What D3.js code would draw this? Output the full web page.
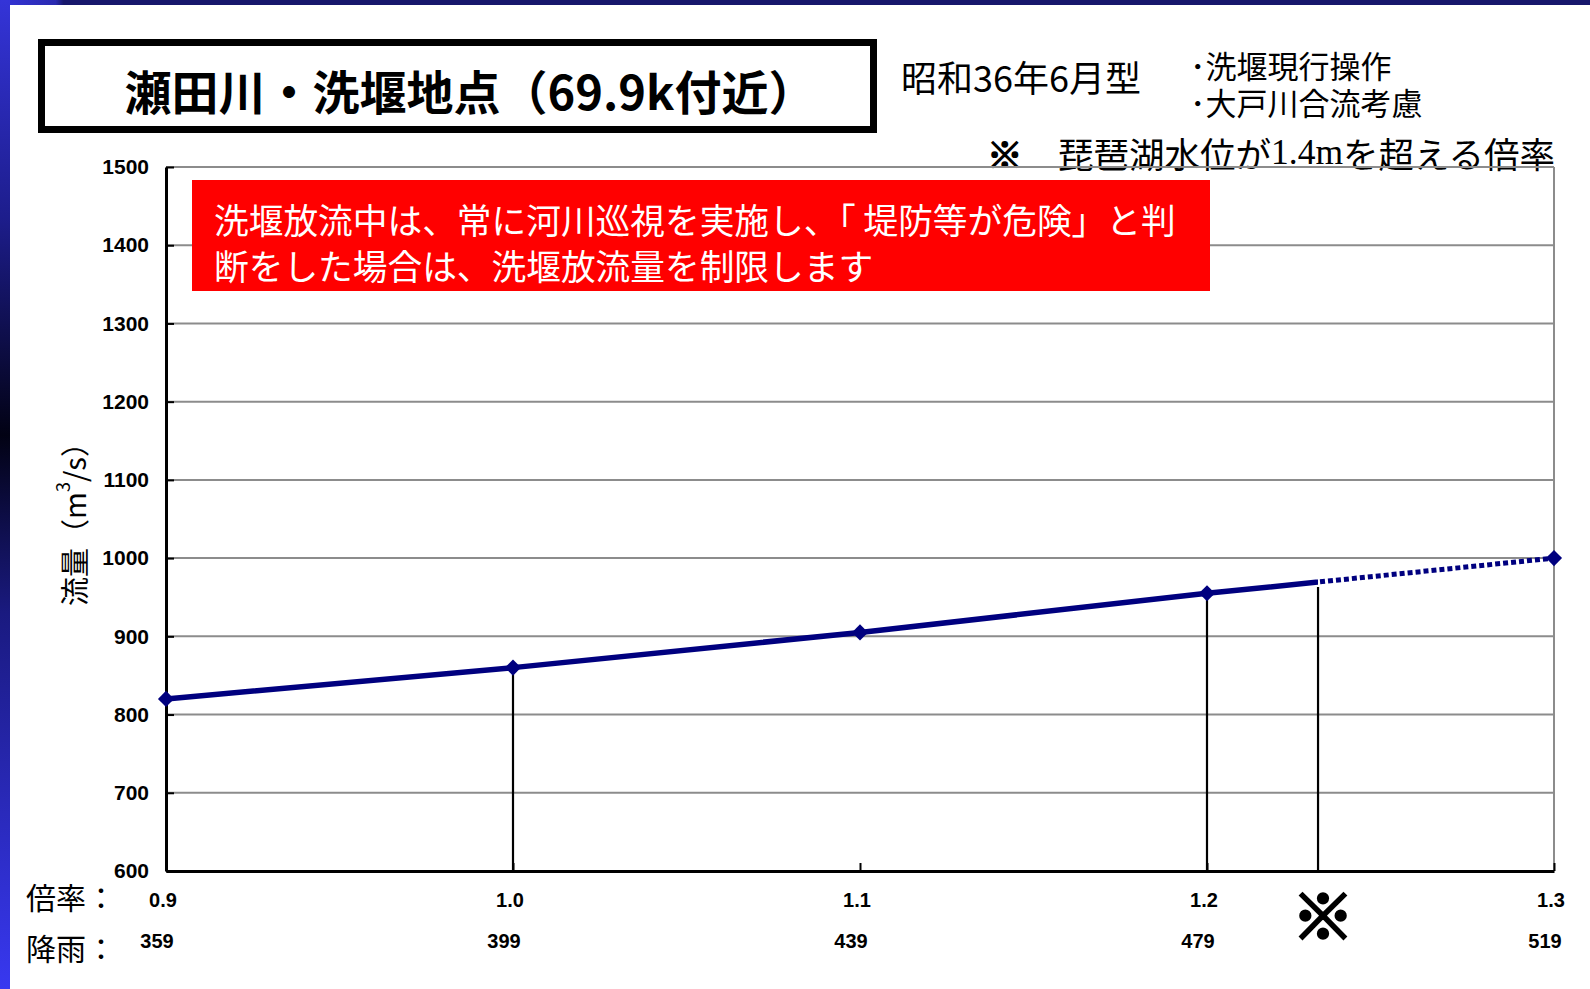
<!DOCTYPE html>
<html lang="ja">
<head>
<meta charset="utf-8">
<title>瀬田川・洗堰地点（69.9k付近）</title>
<script src="https://cdn.jsdelivr.net/npm/d3@7"></script>
<style>
  html, body { margin: 0; padding: 0; background: #ffffff; }
  svg { display: block; }
  .jp { font-family: "Noto Sans CJK JP", "Noto Sans", sans-serif; }
  .num { font-family: "Liberation Sans", Arial, sans-serif; font-weight: bold; }
</style>
</head>
<body>
<svg id="chart" width="1590" height="989"></svg>
<script>
// 倍率 (rainfall multiplier) along the horizontal axis
const rates = [0.9, 1.0, 1.1, 1.2, 1.3];
// 降雨 (rainfall, mm) corresponding to each multiplier
const rainfall = [359, 399, 439, 479, 519];
// 流量 (discharge, m3/s) at the 洗堰 point for each multiplier
const flows = [820, 860, 905, 955, 1000];
// vertical axis ticks
const yTicks = [600, 700, 800, 900, 1000, 1100, 1200, 1300, 1400, 1500];
// multipliers that get a drop line to the axis
const dropRates = [1.0, 1.2];
// multiplier at which Lake Biwa exceeds +1.4 m (※) and the flow read there
const thresholdRate = 1.232;
const thresholdFlow = 963;

const titleText = "瀬田川・洗堰地点（69.9k付近）";
const floodType = "昭和36年6月型";
const conditions = ["･洗堰現行操作", "･大戸川合流考慮"];
const noticeLines = [
  "洗堰放流中は、常に河川巡視を実施し、「 堤防等が危険」と判",
  "断をした場合は、洗堰放流量を制限します"
];

const svg = d3.select("#chart");
const W = 1590, H = 989;
const plot = { left: 166, right: 1554, top: 167, bottom: 871 };

const x = d3.scaleLinear().domain([0.9, 1.3]).range([plot.left, plot.right]);
const y = d3.scaleLinear().domain([600, 1500]).range([plot.bottom, plot.top]);

// ---- slide frame: dark top bar and blue left strip ----
const defs = svg.append("defs");
const gTop = defs.append("linearGradient").attr("id", "topBar").attr("x1", 0).attr("x2", 1).attr("y1", 0).attr("y2", 0);
gTop.append("stop").attr("offset", "0%").attr("stop-color", "#3434d8");
gTop.append("stop").attr("offset", "3.5%").attr("stop-color", "#2a2ab0");
gTop.append("stop").attr("offset", "4%").attr("stop-color", "#17176c");
gTop.append("stop").attr("offset", "100%").attr("stop-color", "#17176c");
const gLeft = defs.append("linearGradient").attr("id", "leftStrip").attr("x1", 0).attr("x2", 0).attr("y1", 0).attr("y2", 1);
gLeft.append("stop").attr("offset", "0%").attr("stop-color", "#3434d8");
gLeft.append("stop").attr("offset", "22%").attr("stop-color", "#1d1d8c");
gLeft.append("stop").attr("offset", "44%").attr("stop-color", "#020214");
gLeft.append("stop").attr("offset", "62%").attr("stop-color", "#1a1a80");
gLeft.append("stop").attr("offset", "100%").attr("stop-color", "#3838f0");

svg.append("rect").attr("x", 0).attr("y", 0).attr("width", W).attr("height", 5).attr("fill", "url(#topBar)");
svg.append("rect").attr("x", 0).attr("y", 0).attr("width", 10).attr("height", H).attr("fill", "url(#leftStrip)");

// ---- title box ----
svg.append("rect")
  .attr("x", 41.5).attr("y", 42.5).attr("width", 832).attr("height", 87)
  .attr("fill", "#fff").attr("stroke", "#000").attr("stroke-width", 7);
svg.append("text").attr("class", "jp")
  .attr("x", 470).attr("y", 89)
  .attr("text-anchor", "middle").attr("dominant-baseline", "central")
  .attr("font-size", 47).attr("font-weight", 700).attr("fill", "#000")
  .text(titleText);

svg.append("text").attr("class", "jp")
  .attr("x", 901).attr("y", 76).attr("dominant-baseline", "central")
  .attr("font-size", 36).attr("fill", "#000").text(floodType);

// operating conditions, two lines in one text block
svg.append("text").attr("class", "jp")
  .attr("y", 64).attr("dominant-baseline", "central")
  .attr("font-size", 31).attr("fill", "#000")
  .selectAll("tspan").data(conditions).join("tspan")
  .attr("x", 1190).attr("dy", (d, i) => i === 0 ? 0 : 37)
  .text(d => d);

// ※ note about Lake Biwa water level
const note = svg.append("text").attr("class", "jp")
  .attr("x", 987).attr("y", 152).attr("dominant-baseline", "central")
  .attr("font-size", 35.5).attr("fill", "#000");
note.append("tspan").attr("font-weight", 700)
  .attr("stroke", "#000").attr("stroke-width", 1.5).text("※");
note.append("tspan").text("　琵琶湖水位が");
note.append("tspan").attr("font-family", "'Liberation Serif', 'Times New Roman', serif").text("1.4m");
note.append("tspan").text("を超える倍率");

// ---- grid and frame ----
const grid = svg.append("g");
grid.selectAll("line").data(yTicks).join("line")
  .attr("x1", plot.left).attr("x2", plot.right)
  .attr("y1", d => y(d)).attr("y2", d => y(d))
  .attr("stroke", "#8c8c8c").attr("stroke-width", 2);
svg.append("line")
  .attr("x1", plot.right).attr("x2", plot.right)
  .attr("y1", plot.top).attr("y2", plot.bottom)
  .attr("stroke", "#8c8c8c").attr("stroke-width", 2);

// ---- notice box ----
svg.append("rect")
  .attr("x", 192).attr("y", 180).attr("width", 1018).attr("height", 111)
  .attr("fill", "#ff0000");
svg.selectAll("text.notice").data(noticeLines).join("text")
  .attr("class", "notice jp")
  .attr("x", 214).attr("y", (d, i) => 219 + i * 46)
  .attr("dominant-baseline", "central")
  .attr("font-size", 34.7).attr("fill", "#fff")
  .text(d => d);

// ---- drop lines from the curve to the axis ----
const drops = dropRates.map(r => ({ r, v: flows[rates.indexOf(r)] }))
  .concat([{ r: thresholdRate, v: thresholdFlow }]);
svg.append("g").selectAll("line").data(drops).join("line")
  .attr("x1", d => x(d.r)).attr("x2", d => x(d.r))
  .attr("y1", d => y(d.v)).attr("y2", plot.bottom)
  .attr("stroke", "#000").attr("stroke-width", 2.2);

// ---- axes ----
const yAxis = d3.axisLeft(y).tickValues(yTicks)
  .tickSizeInner(-8).tickSizeOuter(0).tickPadding(17)
  .tickFormat(d3.format("d"));
const gy = svg.append("g").attr("transform", `translate(${plot.left},0)`).call(yAxis);
gy.select(".domain").attr("stroke", "#000").attr("stroke-width", 3);
gy.selectAll(".tick line").attr("stroke", "#000").attr("stroke-width", 2);
gy.selectAll(".tick text").attr("class", "num").attr("font-size", 21).attr("fill", "#000");

const xAxis = d3.axisBottom(x).tickValues(rates)
  .tickSizeInner(-8).tickSizeOuter(0).tickFormat("");
const gx = svg.append("g").attr("transform", `translate(0,${plot.bottom})`).call(xAxis);
gx.select(".domain").attr("stroke", "#000").attr("stroke-width", 3);
gx.selectAll(".tick line").attr("stroke", "#000").attr("stroke-width", 2);

// ---- discharge curve: solid up to ※, dotted beyond ----
defs.append("clipPath").attr("id", "clipSolid").append("rect")
  .attr("x", 0).attr("y", 0).attr("width", x(thresholdRate)).attr("height", H);
defs.append("clipPath").attr("id", "clipDotted").append("rect")
  .attr("x", x(thresholdRate)).attr("y", 0).attr("width", W - x(thresholdRate)).attr("height", H);

const pts = rates.map((r, i) => [r, flows[i]]);
const line = d3.line().x(d => x(d[0])).y(d => y(d[1]));
const navy = "#00007f";
svg.append("path").datum(pts).attr("d", line)
  .attr("fill", "none").attr("stroke", navy).attr("stroke-width", 5.5)
  .attr("clip-path", "url(#clipSolid)");
svg.append("path").datum(pts).attr("d", line)
  .attr("fill", "none").attr("stroke", navy).attr("stroke-width", 5)
  .attr("stroke-dasharray", "5,3")
  .attr("clip-path", "url(#clipDotted)");

const diamond = {
  draw(ctx, size) {
    const r = Math.sqrt(size / 2);
    ctx.moveTo(0, -r); ctx.lineTo(r, 0); ctx.lineTo(0, r); ctx.lineTo(-r, 0); ctx.closePath();
  }
};
svg.append("g").selectAll("path").data(pts).join("path")
  .attr("transform", d => `translate(${x(d[0])},${y(d[1])})`)
  .attr("d", d3.symbol(diamond, 130))
  .attr("fill", navy);

// ---- bottom label rows ----
svg.append("text").attr("class", "jp")
  .attr("x", 26).attr("y", 896).attr("dominant-baseline", "central")
  .attr("font-size", 30).attr("fill", "#000").text("倍率：");
svg.append("text").attr("class", "jp")
  .attr("x", 26).attr("y", 947).attr("dominant-baseline", "central")
  .attr("font-size", 30).attr("fill", "#000").text("降雨：");

svg.append("g").selectAll("text").data(rates).join("text")
  .attr("class", "num")
  .attr("x", d => x(d) - 3).attr("y", 900)
  .attr("text-anchor", "middle").attr("dominant-baseline", "central")
  .attr("font-size", 20).attr("fill", "#000")
  .text(d => d3.format(".1f")(d));
svg.append("g").selectAll("text").data(rainfall).join("text")
  .attr("class", "num")
  .attr("x", (d, i) => x(rates[i]) - 9).attr("y", 941)
  .attr("text-anchor", "middle").attr("dominant-baseline", "central")
  .attr("font-size", 20).attr("fill", "#000")
  .text(d => d);

// ※ marker under the threshold line
svg.append("text").attr("class", "jp")
  .attr("x", x(thresholdRate) + 5).attr("y", 913)
  .attr("text-anchor", "middle").attr("dominant-baseline", "central")
  .attr("font-size", 62).attr("font-weight", 700).attr("fill", "#000")
  .attr("stroke", "#000").attr("stroke-width", 3)
  .text("※");

// ---- vertical axis title ----
const yt = svg.append("text").attr("class", "jp")
  .attr("transform", "translate(73,517) rotate(-90)")
  .attr("text-anchor", "middle").attr("dominant-baseline", "central")
  .attr("font-size", 29).attr("fill", "#000");
yt.append("tspan").text("流量（m");
yt.append("tspan").attr("font-size", 18).attr("dy", -11).text("3");
yt.append("tspan").attr("dy", 11).text("/s）");
</script>
</body>
</html>
